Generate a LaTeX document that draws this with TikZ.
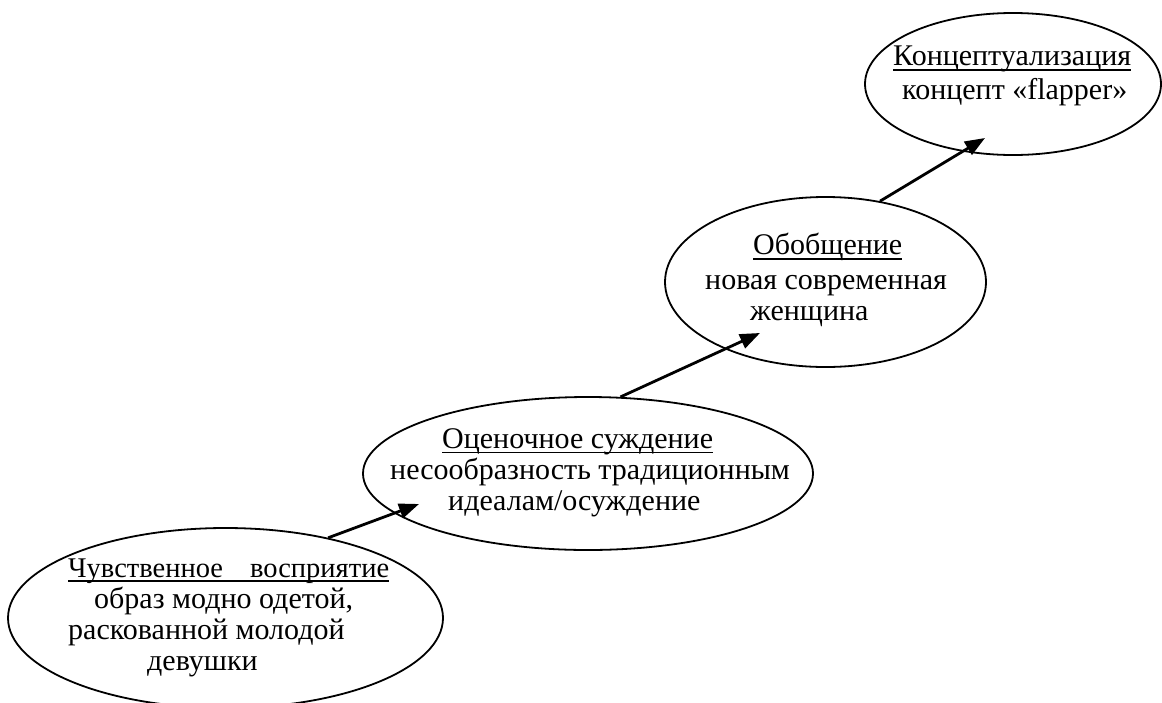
\documentclass[tikz,border=0pt]{standalone}
\usepackage{fontspec}
\setmainfont{Liberation Serif}
\usetikzlibrary{shapes.geometric,arrows.meta}
\newcommand\undl[1]{\setbox0\hbox{#1}\rlap{\rule[-5pt]{\wd0}{1.6pt}}\box0}

\begin{document}
\begin{tikzpicture}[
    x=1pt, y=-1pt,
    >={Triangle[length=20pt, width=15pt]},
    stage/.style={ellipse, draw, line width=1.8pt, inner sep=0pt},
    stagetext/.style={anchor=north west, align=left, inner sep=0pt,
                      font=\fontsize{30}{31}\selectfont},
    arr/.style={->, line width=2.8pt},
]
\useasboundingbox (0,0) rectangle (1162,702);

% ============ STAGES ============
\node[stage, minimum width=435pt, minimum height=180pt] (e1) at (225.5,618) {};
\node[stage, minimum width=450pt, minimum height=153pt] (e2) at (588,473.5) {};
\node[stage, minimum width=321pt, minimum height=170pt] (e3) at (825.5,282) {};
\node[stage, minimum width=296pt, minimum height=142pt] (e4) at (1013,84) {};

% ============ TEXTS ============
\node[stagetext] (t1) at (68,558.2) {
  \undl{\makebox[321pt][s]{\fontsize{28.5}{31}\selectfont Чувственное\hfill восприятие}}\\
  \hspace*{26pt}образ модно одетой,\\
  раскованной молодой\\
  \hspace*{79pt}девушки
};
\node[stagetext] (t2) at (390,428.2) {
  \hspace*{52pt}\undl{Оценочное суждение}\\
  несообразность традиционным\\
  \hspace*{58pt}идеалам/осуждение
};
\node[stagetext] (t3) at (705,233.2) {
  \hspace*{48pt}\undl{Обобщение}\\[4pt]
  новая современная\\
  \hspace*{45pt}женщина
};
\node[stagetext] (t4) at (893,46) {
  \undl{Концептуализация}\\[3pt]
  \hspace*{9pt}концепт «flapper»
};

% ============ ARROWS ============
\coordinate (tip1) at (419,504);
\coordinate (tip2) at (760,333);
\coordinate (tip3) at (985,138);
\draw[arr] (e1.38.7) -- (tip1);
\draw[arr] (e2.67.8) -- (tip2);
\draw[arr] (e3.56.1) -- (tip3);

\end{tikzpicture}
\end{document}
